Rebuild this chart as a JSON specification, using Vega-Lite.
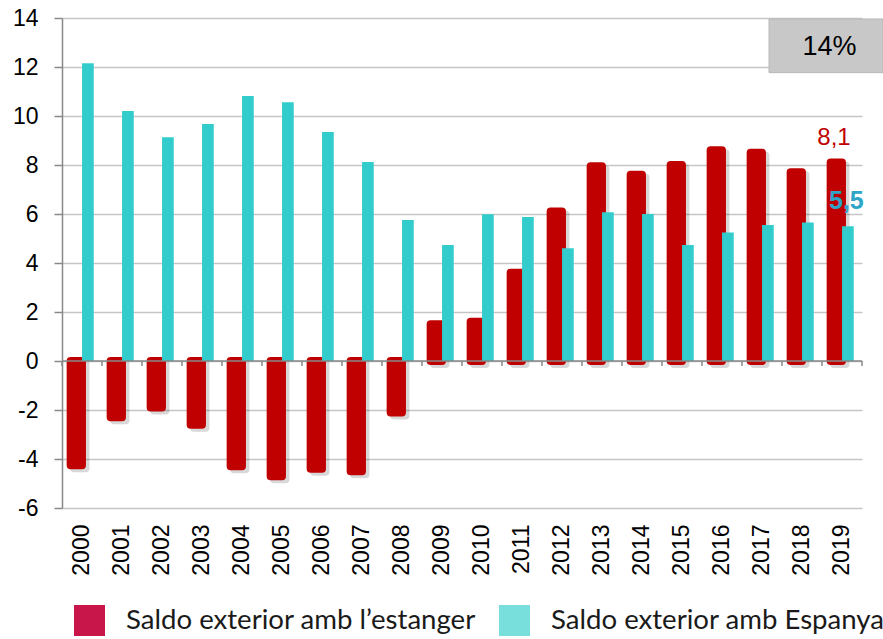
{
  "$schema": "https://vega.github.io/schema/vega-lite/v6.json",
  "width": 800,
  "height": 490,
  "autosize": {"type": "none"},
  "padding": {"left": 62, "top": 18, "right": 21, "bottom": 131},
  "background": "white",
  "config": {
    "view": {"stroke": null},
    "font": "Liberation Sans",
    "scale": {"bandPaddingInner": 0, "bandPaddingOuter": 0, "barBandPaddingInner": 0, "rectBandPaddingInner": 0},
    "axisX": {"domain": false, "ticks": false, "grid": false, "labelAngle": -90, "labelPadding": 16, "labelFontSize": 23, "labelFont": "Liberation Sans", "labelColor": "#000000"},
    "axisY": {"domain": true, "domainColor": "#898989", "domainWidth": 1.5, "ticks": true, "tickColor": "#898989", "tickWidth": 1.5, "tickSize": 8, "grid": true, "gridColor": "#c6c6c6", "gridWidth": 1.5, "labelPadding": 16, "labelFontSize": 23, "labelFont": "Liberation Sans", "labelColor": "#000000", "labelExpr": "replace(datum.label, '−', '-')", "values": [-6, -4, -2, 0, 2, 4, 6, 8, 10, 12, 14]}
  },
  "datasets": {
    "saldo": [
      {"year": "2000", "serie": "Saldo exterior amb l’estanger", "value": -4.25},
      {"year": "2001", "serie": "Saldo exterior amb l’estanger", "value": -2.3},
      {"year": "2002", "serie": "Saldo exterior amb l’estanger", "value": -1.9},
      {"year": "2003", "serie": "Saldo exterior amb l’estanger", "value": -2.6},
      {"year": "2004", "serie": "Saldo exterior amb l’estanger", "value": -4.3},
      {"year": "2005", "serie": "Saldo exterior amb l’estanger", "value": -4.7},
      {"year": "2006", "serie": "Saldo exterior amb l’estanger", "value": -4.4},
      {"year": "2007", "serie": "Saldo exterior amb l’estanger", "value": -4.5},
      {"year": "2008", "serie": "Saldo exterior amb l’estanger", "value": -2.1},
      {"year": "2009", "serie": "Saldo exterior amb l’estanger", "value": 1.5},
      {"year": "2010", "serie": "Saldo exterior amb l’estanger", "value": 1.6},
      {"year": "2011", "serie": "Saldo exterior amb l’estanger", "value": 3.6},
      {"year": "2012", "serie": "Saldo exterior amb l’estanger", "value": 6.1},
      {"year": "2013", "serie": "Saldo exterior amb l’estanger", "value": 7.95},
      {"year": "2014", "serie": "Saldo exterior amb l’estanger", "value": 7.6},
      {"year": "2015", "serie": "Saldo exterior amb l’estanger", "value": 8.0},
      {"year": "2016", "serie": "Saldo exterior amb l’estanger", "value": 8.6},
      {"year": "2017", "serie": "Saldo exterior amb l’estanger", "value": 8.5},
      {"year": "2018", "serie": "Saldo exterior amb l’estanger", "value": 7.7},
      {"year": "2019", "serie": "Saldo exterior amb l’estanger", "value": 8.1},
      {"year": "2000", "serie": "Saldo exterior amb Espanya", "value": 12.15},
      {"year": "2001", "serie": "Saldo exterior amb Espanya", "value": 10.2},
      {"year": "2002", "serie": "Saldo exterior amb Espanya", "value": 9.13},
      {"year": "2003", "serie": "Saldo exterior amb Espanya", "value": 9.67},
      {"year": "2004", "serie": "Saldo exterior amb Espanya", "value": 10.82},
      {"year": "2005", "serie": "Saldo exterior amb Espanya", "value": 10.56},
      {"year": "2006", "serie": "Saldo exterior amb Espanya", "value": 9.35},
      {"year": "2007", "serie": "Saldo exterior amb Espanya", "value": 8.12},
      {"year": "2008", "serie": "Saldo exterior amb Espanya", "value": 5.76},
      {"year": "2009", "serie": "Saldo exterior amb Espanya", "value": 4.73},
      {"year": "2010", "serie": "Saldo exterior amb Espanya", "value": 5.99},
      {"year": "2011", "serie": "Saldo exterior amb Espanya", "value": 5.88},
      {"year": "2012", "serie": "Saldo exterior amb Espanya", "value": 4.6},
      {"year": "2013", "serie": "Saldo exterior amb Espanya", "value": 6.07},
      {"year": "2014", "serie": "Saldo exterior amb Espanya", "value": 6.0},
      {"year": "2015", "serie": "Saldo exterior amb Espanya", "value": 4.73},
      {"year": "2016", "serie": "Saldo exterior amb Espanya", "value": 5.25},
      {"year": "2017", "serie": "Saldo exterior amb Espanya", "value": 5.55},
      {"year": "2018", "serie": "Saldo exterior amb Espanya", "value": 5.65},
      {"year": "2019", "serie": "Saldo exterior amb Espanya", "value": 5.5}
    ],
    "labels": [
      {"year": "2019", "serie": "Saldo exterior amb l’estanger", "value": 8.1, "label": "8,1"},
      {"year": "2019", "serie": "Saldo exterior amb Espanya", "value": 5.5, "label": "5,5"}
    ],
    "box": [
      {"label": "14%"}
    ]
  },
  "layer": [
    {
      "data": {"name": "saldo"},
      "transform": [{"filter": "datum.serie === 'Saldo exterior amb l’estanger'"}],
      "mark": {"type": "bar", "color": "#000000", "opacity": 0.15, "width": 11.3, "xOffset": -2.2, "yOffset": 3, "stroke": "#000000", "strokeWidth": 8, "strokeJoin": "round"},
      "encoding": {
        "x": {"field": "year", "type": "ordinal", "title": null},
        "y": {"field": "value", "type": "quantitative", "title": null, "scale": {"domain": [-6, 14], "nice": false, "zero": false}}
      }
    },
    {
      "data": {"name": "saldo"},
      "transform": [{"filter": "datum.serie === 'Saldo exterior amb l’estanger'"}],
      "mark": {"type": "bar", "color": "#c00000", "width": 11.3, "xOffset": -5.7, "stroke": "#c00000", "strokeWidth": 8, "strokeJoin": "round"},
      "encoding": {
        "x": {"field": "year", "type": "ordinal", "title": null},
        "y": {"field": "value", "type": "quantitative", "title": null, "scale": {"domain": [-6, 14], "nice": false, "zero": false}}
      }
    },
    {
      "data": {"name": "saldo"},
      "transform": [{"filter": "datum.serie === 'Saldo exterior amb Espanya'"}],
      "mark": {"type": "bar", "color": "#33cccc", "width": 11.7, "xOffset": 5.9},
      "encoding": {
        "x": {"field": "year", "type": "ordinal", "title": null},
        "y": {"field": "value", "type": "quantitative", "title": null, "scale": {"domain": [-6, 14], "nice": false, "zero": false}}
      }
    },
    {
      "data": {"values": [{}]},
      "mark": {"type": "rule", "color": "#898989", "strokeWidth": 1.5},
      "encoding": {
        "y": {"datum": 0, "type": "quantitative", "title": null, "scale": {"domain": [-6, 14], "nice": false, "zero": false}}
      }
    },
    {
      "data": {"name": "saldo"},
      "transform": [{"filter": "datum.serie === 'Saldo exterior amb l’estanger'"}],
      "mark": {"type": "rule", "color": "#898989", "strokeWidth": 1.5},
      "encoding": {
        "x": {"field": "year", "type": "ordinal", "title": null, "bandPosition": 0},
        "y": {"datum": 0, "type": "quantitative", "title": null, "scale": {"domain": [-6, 14], "nice": false, "zero": false}},
        "y2": {"datum": -0.2}
      }
    },
    {
      "data": {"name": "saldo"},
      "transform": [{"filter": "datum.serie === 'Saldo exterior amb l’estanger' && datum.year === '2019'"}],
      "mark": {"type": "rule", "color": "#898989", "strokeWidth": 1.5},
      "encoding": {
        "x": {"field": "year", "type": "ordinal", "title": null, "bandPosition": 1},
        "y": {"datum": 0, "type": "quantitative", "title": null, "scale": {"domain": [-6, 14], "nice": false, "zero": false}},
        "y2": {"datum": -0.2}
      }
    },
    {
      "data": {"name": "saldo"},
      "mark": {"type": "point", "filled": true, "opacity": 0},
      "encoding": {
        "x": {"field": "year", "type": "ordinal", "title": null},
        "y": {"field": "value", "type": "quantitative", "title": null, "scale": {"domain": [-6, 14], "nice": false, "zero": false}},
        "color": {
          "field": "serie",
          "type": "nominal",
          "scale": {"domain": ["Saldo exterior amb l’estanger", "Saldo exterior amb Espanya"], "range": ["#c8164a", "#79dfdc"]},
          "legend": {
            "title": null,
            "orient": "none",
            "legendX": 12,
            "legendY": 587,
            "direction": "horizontal",
            "symbolType": "square",
            "symbolSize": 961,
            "symbolStrokeWidth": 0,
            "symbolOpacity": 1,
            "labelFont": "Lato",
            "labelFontSize": 27.6,
            "labelColor": "#1a1a1a",
            "labelOffset": 21,
            "labelLimit": 0,
            "columnPadding": 23,
            "padding": 0
          }
        }
      }
    },
    {
      "data": {"name": "labels"},
      "transform": [{"filter": "datum.label === '8,1'"}],
      "mark": {"type": "text", "color": "#c00000", "fontSize": 24, "font": "Liberation Sans", "baseline": "alphabetic", "align": "center", "dy": -18},
      "encoding": {
        "x": {"field": "year", "type": "ordinal", "title": null, "bandPosition": 0.3},
        "y": {"field": "value", "type": "quantitative", "title": null, "scale": {"domain": [-6, 14], "nice": false, "zero": false}},
        "text": {"field": "label"}
      }
    },
    {
      "data": {"name": "labels"},
      "transform": [{"filter": "datum.label === '5,5'"}],
      "mark": {"type": "text", "color": "#2fa6c8", "fontSize": 25, "fontWeight": "bold", "font": "Liberation Sans", "baseline": "alphabetic", "align": "center", "dy": -17},
      "encoding": {
        "x": {"field": "year", "type": "ordinal", "title": null, "bandPosition": 0.61},
        "y": {"field": "value", "type": "quantitative", "title": null, "scale": {"domain": [-6, 14], "nice": false, "zero": false}},
        "text": {"field": "label"}
      }
    },
    {
      "data": {"name": "box"},
      "mark": {"type": "rect", "color": "#c8c8c8", "stroke": "#b8b8b8", "strokeWidth": 1, "x2Offset": 21},
      "encoding": {
        "x": {"datum": "2017", "type": "ordinal", "bandPosition": 0.675, "title": null},
        "x2": {"datum": "2019", "bandPosition": 1},
        "y": {"datum": 13.96, "type": "quantitative", "title": null, "scale": {"domain": [-6, 14], "nice": false, "zero": false}},
        "y2": {"datum": 11.77}
      }
    },
    {
      "data": {"name": "box"},
      "mark": {"type": "text", "color": "#000000", "fontSize": 27, "font": "Liberation Sans", "baseline": "alphabetic", "align": "center"},
      "encoding": {
        "x": {"datum": "2019", "type": "ordinal", "bandPosition": 0.19, "title": null},
        "y": {"datum": 12.47, "type": "quantitative", "title": null, "scale": {"domain": [-6, 14], "nice": false, "zero": false}},
        "text": {"field": "label"}
      }
    }
  ]
}
